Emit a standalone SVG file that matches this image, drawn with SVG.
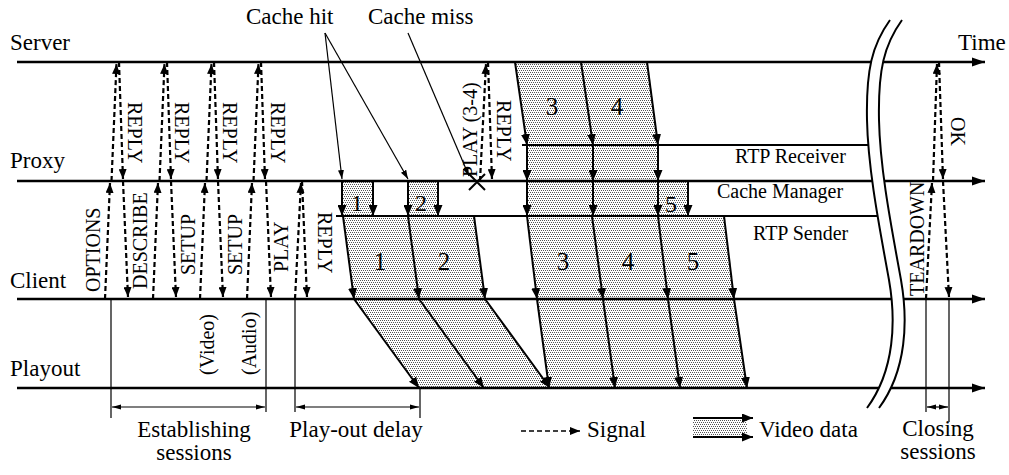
<svg xmlns="http://www.w3.org/2000/svg" width="1009" height="475" viewBox="0 0 1009 475" font-family="'Liberation Serif', 'Times New Roman', 'DejaVu Serif', serif">
<defs>
<pattern id="dots" width="4" height="4" patternUnits="userSpaceOnUse">
<rect width="4" height="4" fill="#fff"/>
<rect x="0" y="0" width="1" height="1" fill="#555"/>
<rect x="2" y="0" width="1" height="1" fill="#555"/>
<rect x="1" y="2" width="1" height="1" fill="#555"/>
<rect x="3" y="2" width="1" height="1" fill="#555"/>
</pattern>
<marker id="th" markerUnits="userSpaceOnUse" markerWidth="14" markerHeight="10" refX="13" refY="5" orient="auto"><path d="M0,0.5 L13,5 L0,9.5 z" fill="#000"/></marker>
<marker id="ah" markerUnits="userSpaceOnUse" markerWidth="10" markerHeight="8" refX="10" refY="4" orient="auto"><path d="M0,0 L10,4 L0,8 z" fill="#000"/></marker>
<marker id="dh" markerUnits="userSpaceOnUse" markerWidth="11" markerHeight="9" refX="11" refY="4.5" orient="auto"><path d="M0,0 L11,4.5 L0,9 z" fill="#000"/></marker>
<marker id="lh" markerUnits="userSpaceOnUse" markerWidth="9" markerHeight="6" refX="9" refY="3" orient="auto"><path d="M0,0 L9,3 L0,6 z" fill="#000"/></marker>
<marker id="dim" markerUnits="userSpaceOnUse" markerWidth="9" markerHeight="6" refX="9" refY="3" orient="auto-start-reverse"><path d="M0,0.5 L9,3 L0,5.5 z" fill="#000"/></marker>
</defs>
<style>
text{font-family:'Liberation Serif','Times New Roman',serif;fill:#000}
.lbl{font-size:23px}
.sl{font-size:20px}
.num{font-size:25px;text-anchor:middle}
.mid{text-anchor:middle}
.tl{stroke:#000;stroke-width:2.5;fill:none;marker-end:url(#th)}
.ln{stroke:#000;stroke-width:2;fill:none}
.thin{stroke:#000;stroke-width:1.2;fill:none}
.sig{stroke:#000;stroke-width:2.2;stroke-dasharray:5 3;fill:none;marker-end:url(#ah)}
.dat{stroke:#000;stroke-width:2;fill:none;marker-end:url(#dh)}
.lead{stroke:#000;stroke-width:1.2;fill:none;marker-end:url(#lh)}
.dimv{stroke:#000;stroke-width:1.2;fill:none;marker-start:url(#dim);marker-end:url(#dim)}
.fill{fill:url(#dots);stroke:none}
</style>
<rect width="1009" height="475" fill="#fff"/>

<g id="data-fills">
<polygon class="fill" points="515,62 647,62 658,145 527,145"/>
<rect class="fill" x="527" y="145" width="131" height="36"/>
<rect class="fill" x="527" y="181" width="161" height="35"/>
<rect class="fill" x="342" y="181" width="31" height="35"/>
<rect class="fill" x="408" y="181" width="30" height="35"/>
<polygon class="fill" points="343,216 474,216 485,299 354,299"/>
<polygon class="fill" points="527,216 724,216 734,299 537,299"/>
<polygon class="fill" points="354,299 485,299 550,388 419,388"/>
<polygon class="fill" points="537,299 734,299 747,388 549,388"/>
</g>

<g id="server">
<text class="lbl" x="10" y="50">Server</text>
<path class="tl" d="M17,62 H985"/>
<text class="lbl" x="958" y="50">Time</text>
</g>
<g id="proxy">
<text class="lbl" x="10" y="168">Proxy</text>
<path class="tl" d="M17,181 H985"/>
</g>
<g id="client">
<text class="lbl" x="10" y="288">Client</text>
<path class="tl" d="M17,299 H985"/>
</g>
<g id="playout">
<text class="lbl" x="10" y="376">Playout</text>
<path class="tl" d="M17,388 H985"/>
</g>
<g id="rtp-receiver">
<path class="ln" d="M522,145 H870"/>
<text class="sl" x="735" y="163">RTP Receiver</text>
</g>
<g id="cache-manager">
<path class="ln" d="M336,216 H880"/>
<text class="sl" x="717" y="198">Cache Manager</text>
</g>
<g id="rtp-sender">
<text class="sl" x="753" y="240">RTP Sender</text>
</g>

<g id="connectors">
<path class="sig" d="M105,299 L110,183"/>
<path class="sig" d="M111.5,181 L116.5,64"/>
<path class="sig" d="M119,62 L123,179"/>
<path class="sig" d="M123,181 L128,297"/>
<path class="sig" d="M153,299 L158,183"/>
<path class="sig" d="M159.5,181 L164.5,64"/>
<path class="sig" d="M167,62 L171,179"/>
<path class="sig" d="M171,181 L176,297"/>
<path class="sig" d="M200,299 L205,183"/>
<path class="sig" d="M206.5,181 L211.5,64"/>
<path class="sig" d="M214,62 L218,179"/>
<path class="sig" d="M218,181 L223,297"/>
<path class="sig" d="M247,299 L252,183"/>
<path class="sig" d="M253.5,181 L258.5,64"/>
<path class="sig" d="M261,62 L265,179"/>
<path class="sig" d="M266,181 L271,297"/>
<path class="sig" d="M295,299 L301,183"/>
<path class="sig" d="M302,181 L307,297"/>
<path class="sig" d="M480,181 L486,64"/>
<path class="sig" d="M488,62 L492,179"/>
<path class="sig" d="M926,299 L932,183"/>
<path class="sig" d="M933,181 L937,64"/>
<path class="sig" d="M939,62 L943,179"/>
<path class="sig" d="M943,181 L949,297"/>

<path class="dat" d="M515,62 L527,145"/>
<path class="dat" d="M581,62 L593,145"/>
<path class="dat" d="M647,62 L658,145"/>
<path class="dat" d="M527,145 V181"/>
<path class="dat" d="M593,145 V181"/>
<path class="dat" d="M658,145 V181"/>
<path class="dat" d="M342,181 V216"/>
<path class="dat" d="M373,181 V216"/>
<path class="dat" d="M408,181 V216"/>
<path class="dat" d="M438,181 V216"/>
<path class="dat" d="M527,181 V216"/>
<path class="dat" d="M593,181 V216"/>
<path class="dat" d="M658,181 V216"/>
<path class="dat" d="M688,181 V216"/>
<path class="dat" d="M343,216 L354,299"/>
<path class="dat" d="M408,216 L419,299"/>
<path class="dat" d="M474,216 L485,299"/>
<path class="dat" d="M527,216 L537,299"/>
<path class="dat" d="M592,216 L603,299"/>
<path class="dat" d="M658,216 L668,299"/>
<path class="dat" d="M724,216 L734,299"/>
<path class="dat" d="M354,299 L419,388"/>
<path class="dat" d="M419,299 L484,388"/>
<path class="dat" d="M485,299 L550,388"/>
<path class="dat" d="M537,299 L549,388"/>
<path class="dat" d="M603,299 L615,388"/>
<path class="dat" d="M668,299 L680,388"/>
<path class="dat" d="M734,299 L747,388"/>

<path class="lead" d="M325,33 L342,179"/>
<path class="lead" d="M325,33 L408,179"/>
<path class="lead" d="M408,33 L469,176"/>
</g>

<g id="cache-miss-mark">
<path class="ln" d="M469,174 L485,190 M485,174 L469,190"/>
</g>

<g id="signal-labels">
<text class="sl" transform="translate(100,292) rotate(-90)">OPTIONS</text>
<text class="sl" transform="translate(147,289) rotate(-90)">DESCRIBE</text>
<text class="sl" transform="translate(195,275) rotate(-90)">SETUP</text>
<text class="sl" transform="translate(242,275) rotate(-90)">SETUP</text>
<text class="sl" transform="translate(288,272) rotate(-90)">PLAY</text>
<text class="sl" transform="translate(214,375) rotate(-90)">(Video)</text>
<text class="sl" transform="translate(256,375) rotate(-90)">(Audio)</text>
<text class="sl" transform="translate(477,177) rotate(-90)">PLAY (3-4)</text>
<text class="sl" transform="translate(924,296) rotate(-90)">TEARDOWN</text>
<text class="sl" transform="translate(128,102) rotate(90)">REPLY</text>
<text class="sl" transform="translate(175,102) rotate(90)">REPLY</text>
<text class="sl" transform="translate(223,102) rotate(90)">REPLY</text>
<text class="sl" transform="translate(271,102) rotate(90)">REPLY</text>
<text class="sl" transform="translate(318,212) rotate(90)">REPLY</text>
<text class="sl" transform="translate(497,100) rotate(90)">REPLY</text>
<text class="sl" transform="translate(951,117) rotate(90)">OK</text>
</g>

<g id="annotations">
<text class="lbl" x="246" y="24">Cache hit</text>
<text class="lbl" x="368" y="24">Cache miss</text>
</g>

<g id="packet-numbers">
<text class="num" x="357" y="211" style="font-size:24px">1</text>
<text class="num" x="421" y="211" style="font-size:24px">2</text>
<text class="num" x="671" y="212" style="font-size:24px">5</text>
<text class="num" x="552" y="115">3</text>
<text class="num" x="617" y="115">4</text>
<text class="num" x="380" y="270">1</text>
<text class="num" x="444" y="270">2</text>
<text class="num" x="563" y="270">3</text>
<text class="num" x="628" y="270">4</text>
<text class="num" x="693" y="270">5</text>
</g>

<g id="time-break">
<path d="M890,20 C872,45 866,70 867,120 C868,170 880,230 889,280 C896,320 895,370 867,408 L879,408 C907,370 908,320 901,280 C892,230 880,170 879,120 C878,70 884,45 902,20 Z" fill="#fff" stroke="none"/>
<path class="ln" d="M890,20 C872,45 866,70 867,120 C868,170 880,230 889,280 C896,320 895,370 867,408"/>
<path class="ln" d="M902,20 C884,45 878,70 879,120 C880,170 892,230 901,280 C908,320 907,370 879,408"/>
</g>

<g id="establishing-sessions">
<path class="thin" d="M111,299 V418 M266,299 V412"/>
<path class="dimv" d="M112,407 H265"/>
<text class="lbl mid" x="194" y="437">Establishing</text>
<text class="lbl mid" x="194" y="460">sessions</text>
</g>
<g id="playout-delay">
<path class="thin" d="M295,299 V412 M420,388 V418"/>
<path class="dimv" d="M296,407 H419"/>
<text class="lbl mid" x="356" y="437">Play-out delay</text>
</g>
<g id="closing-sessions">
<path class="thin" d="M926,299 V412 M949,299 V422"/>
<path class="dimv" d="M927,407 H948"/>
<text class="lbl mid" x="938" y="436">Closing</text>
<text class="lbl mid" x="938" y="459">sessions</text>
</g>

<g id="legend">
<path class="sig" d="M521,431 H580" style="stroke-width:1.6"/>
<text class="lbl" x="587" y="437">Signal</text>
<rect class="fill" x="693" y="418" width="54" height="19"/>
<path class="dat" d="M693,418 H753"/>
<path class="dat" d="M693,437 H753"/>
<text class="lbl" x="759" y="437">Video data</text>
</g>
</svg>
